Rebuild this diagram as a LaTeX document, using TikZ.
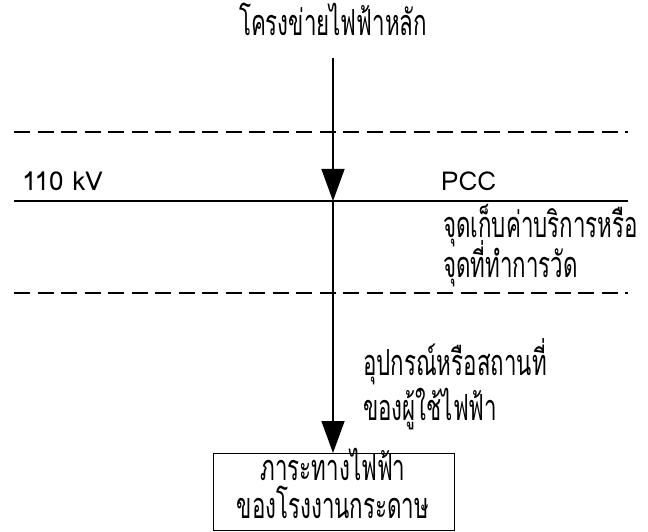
\documentclass[tikz,border=0pt]{standalone}
\usepackage{fontspec}
\newfontfamily\thaifont[Script=Thai,FakeStretch=0.62]{Loma}
\newfontfamily\latinfont{Loma}
\usetikzlibrary{arrows.meta}
\begin{document}
\begin{tikzpicture}[x=1pt,y=-1pt,
  lbl/.style={font=\thaifont\fontsize{36}{40}\selectfont, inner sep=0pt},
  lat/.style={font=\latinfont\fontsize{26}{30}\selectfont, inner sep=0pt},
  bus/.style={line width=1.4pt},
  dash line/.style={line width=1.4pt, dash pattern=on 16pt off 7.5pt},
  feed/.style={line width=1.4pt, -{Triangle[length=32pt,width=23pt]}},
  loadbox/.style={draw, line width=1pt, minimum width=241pt, minimum height=77pt, inner sep=0pt}
]
\useasboundingbox (0,0) rectangle (648,532);
\node[lbl, anchor=base] (grid) at (333,36) {โครงข่ายไฟฟ้าหลัก};
\coordinate (top) at (333,58);
\draw[dash line] (14,132) -- (628,132);
\draw[bus] (14,201) -- (628,201);
\draw[dash line] (14,293) -- (628,293);
\coordinate (pcc) at (333,201);
\node[loadbox, anchor=north] (load) at (333.5,453) {};
\node[lbl, anchor=base] (loadA) at (333,480) {ภาระทางไฟฟ้า};
\node[lbl, anchor=base] (loadB) at (333,518) {ของโรงงานกระดาษ};
\draw[feed] (top) -- (pcc);
\draw[feed] (pcc) -- (load.north -| pcc);
\node[lat, anchor=base west] (kv) at (22,190) {110 kV};
\node[lat, anchor=base west] (pcclbl) at (441,190) {PCC};
\node[lbl, anchor=base west] (bill) at (443,237) {จุดเก็บค่าบริการหรือ};
\node[lbl, anchor=base west] (meas) at (443,277) {จุดที่ทำการวัด};
\node[lbl, anchor=base west] (dev) at (363,375) {อุปกรณ์หรือสถานที่};
\node[lbl, anchor=base west] (user) at (363,420) {ของผู้ใช้ไฟฟ้า};
\end{tikzpicture}
\end{document}
